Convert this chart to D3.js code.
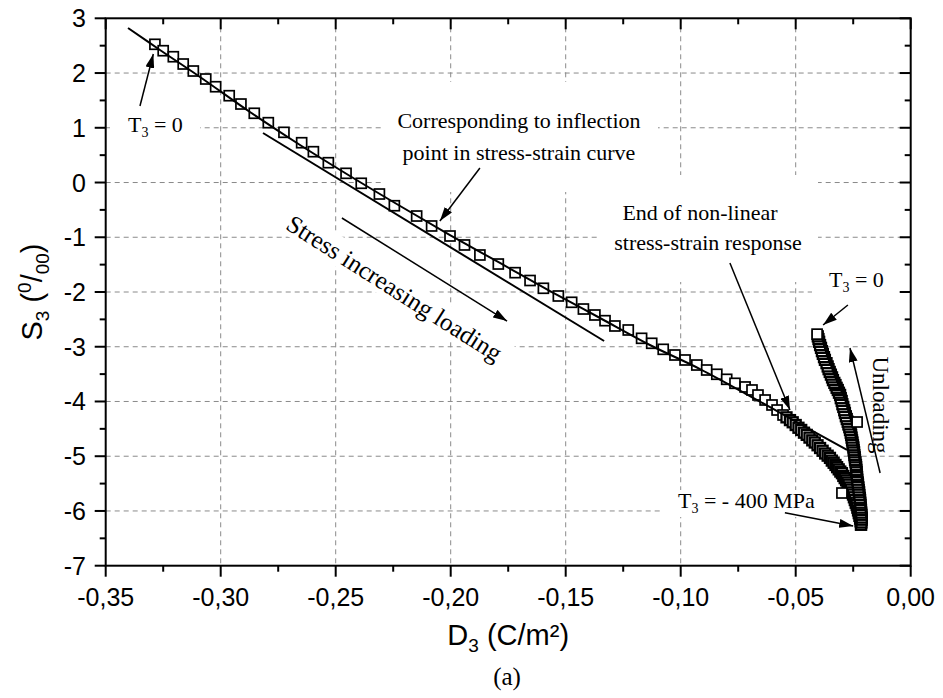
<!DOCTYPE html>
<html>
<head>
<meta charset="utf-8">
<script src="https://cdn.jsdelivr.net/npm/d3@7"></script>
<style>
  body { margin: 0; background: #fff; }
  svg { display: block; }
</style>
</head>
<body>
<svg id="chart" width="943" height="698"></svg>
<script>
// ---- Loading branch: electric displacement D3 (C/m²) vs strain S3 (‰)
const loadD = [-0.3286,-0.3250,-0.3206,-0.3163,-0.3119,-0.3065,-0.3022,-0.2963,-0.2912,-0.2854,
  -0.2793,-0.2725,-0.2648,-0.2597,-0.2532,-0.2455,-0.2389,-0.2310,-0.2245,-0.2148,
  -0.2083,-0.2003,-0.1940,-0.1873,-0.1793,-0.1720,-0.1655,-0.1597,-0.1532,-0.1474,
  -0.1423,-0.1373,-0.1329,-0.1286,-0.1228,-0.1170,-0.1126,-0.1076,-0.1025,-0.0981,
  -0.0930,-0.0887,-0.0843,-0.0800,-0.0764,-0.0720,-0.0690,-0.0664,-0.0633,-0.0603,
  -0.0581,-0.0555];
const loadS = [2.525,2.408,2.298,2.165,2.037,1.891,1.750,1.586,1.434,1.265,
  1.093,0.917,0.727,0.563,0.362,0.168,-0.014,-0.210,-0.424,-0.612,
  -0.794,-0.977,-1.141,-1.324,-1.489,-1.647,-1.790,-1.932,-2.073,-2.188,
  -2.311,-2.420,-2.524,-2.621,-2.694,-2.846,-2.937,-3.047,-3.151,-3.242,
  -3.334,-3.425,-3.503,-3.595,-3.668,-3.735,-3.790,-3.882,-3.973,-4.064,
  -4.156,-4.247];

// ---- End of loading, where readings crowd together (down to T3 = -400 MPa)
const lateLoadD = [-0.0540,-0.0525,-0.0513,-0.0500,-0.0488,-0.0476,-0.0464,-0.0452,
  -0.0440,-0.0428,-0.0417,-0.0405,-0.0394,-0.0383,-0.0372,-0.0361,-0.0351,-0.0343,
  -0.0335,-0.0327,-0.0320,-0.0313,-0.0306,-0.0299,-0.0293,-0.0287,-0.0281,-0.0275,
  -0.0270,-0.0265,-0.0260,-0.0255,-0.0251,-0.0247,-0.0243,-0.0239,-0.0235,-0.0232,
  -0.0229,-0.0226,-0.0223,-0.0220,-0.0218,-0.0216];
const lateLoadS = [-4.29,-4.34,-4.38,-4.43,-4.48,-4.52,-4.57,-4.61,
  -4.66,-4.71,-4.75,-4.80,-4.85,-4.90,-4.95,-4.99,-5.03,-5.08,
  -5.12,-5.16,-5.20,-5.24,-5.28,-5.31,-5.36,-5.40,-5.44,-5.48,
  -5.52,-5.57,-5.61,-5.66,-5.70,-5.75,-5.80,-5.85,-5.89,-5.94,
  -5.99,-6.04,-6.09,-6.14,-6.19,-6.25];

// ---- Unloading branch (from T3 = -400 MPa back to T3 = 0)
const unloadD = [-0.0216,-0.0214,-0.0213,-0.0213,-0.0214,-0.0215,-0.0216,-0.0217,-0.0218,-0.0219,
  -0.0220,-0.0221,-0.0223,-0.0224,-0.0226,-0.0227,-0.0229,-0.0230,-0.0232,-0.0233,
  -0.0234,-0.0235,-0.0236,-0.0237,-0.0238,-0.0240,-0.0242,-0.0243,-0.0245,-0.0246,
  -0.0248,-0.0249,-0.0251,-0.0253,-0.0255,-0.0257,-0.0259,-0.0261,-0.0264,-0.0267,
  -0.0271,-0.0274,-0.0278,-0.0282,-0.0286,-0.0289,-0.0293,-0.0297,-0.0300,-0.0304,
  -0.0307,-0.0312,-0.0317,-0.0322,-0.0327,-0.0332,-0.0338,-0.0342,-0.0347,-0.0352,
  -0.0357,-0.0361,-0.0366,-0.0373,-0.0377,-0.0382,-0.0386,-0.0390,-0.0394,-0.0398,
  -0.0401,-0.0404];
const unloadS = [-6.25,-6.21,-6.16,-6.12,-6.07,-6.03,-5.98,-5.94,-5.89,-5.85,
  -5.80,-5.76,-5.71,-5.66,-5.62,-5.57,-5.52,-5.48,-5.43,-5.38,
  -5.34,-5.29,-5.25,-5.20,-5.16,-5.11,-5.07,-5.02,-4.98,-4.93,
  -4.89,-4.84,-4.80,-4.75,-4.71,-4.66,-4.61,-4.57,-4.52,-4.47,
  -4.42,-4.37,-4.32,-4.27,-4.21,-4.16,-4.10,-4.05,-3.99,-3.94,
  -3.88,-3.84,-3.79,-3.75,-3.70,-3.66,-3.61,-3.56,-3.51,-3.46,
  -3.41,-3.36,-3.30,-3.24,-3.19,-3.13,-3.08,-3.02,-2.97,-2.91,
  -2.86,-2.81];

// ---- Last unloading reading (T3 = 0) and isolated readings off the branches
const endD = [-0.0407];
const endS = [-2.77];
const strayD = [-0.0233, -0.0299];
const strayS = [-4.375, -5.672];

// ---- Smooth curve through the loading branch
const fitD = [-0.3403,-0.3264,-0.3090,-0.2873,-0.2655,-0.2438,-0.2220,-0.2003,-0.1786,-0.1568,
  -0.1351,-0.1134,-0.0916,-0.0699,-0.0482,-0.0277];
const fitS = [2.823,2.421,1.928,1.288,0.685,0.119,-0.429,-0.959,-1.470,-1.982,
  -2.475,-2.968,-3.407,-3.900,-4.411,-4.886];

// ---- Straight tangent at the inflection point
const tangentD = [-0.2816, -0.1333];
const tangentS = [0.905, -2.895];

// ---- Axes
const xTickValues = [-0.35,-0.30,-0.25,-0.20,-0.15,-0.10,-0.05,0.00];
const xMinorValues = [-0.325,-0.275,-0.225,-0.175,-0.125,-0.075,-0.025];
const yTickValues = [-7,-6,-5,-4,-3,-2,-1,0,1,2,3];
const yMinorValues = [-6.5,-5.5,-4.5,-3.5,-2.5,-1.5,-0.5,0.5,1.5,2.5];

const svg = d3.select("#chart");
const L = 105.7, R = 910.7, T = 18.3, B = 565.7;
const x = d3.scaleLinear().domain([-0.35, 0]).range([L, R]);
const y = d3.scaleLinear().domain([-7, 3]).range([B, T]);

const loc = d3.formatLocale({decimal: ",", thousands: ".", grouping: [3], currency: ["", ""], minus: "-"});
const fmtX = loc.format(".2f");
const fmtY = loc.format("d");

const SANS = "'Liberation Sans', Arial, sans-serif";
const SERIF = "'Liberation Serif', 'Times New Roman', serif";

// arrow head
svg.append("defs").append("marker")
  .attr("id", "head").attr("viewBox", "0 0 10 10")
  .attr("refX", 10).attr("refY", 5)
  .attr("markerUnits", "userSpaceOnUse")
  .attr("markerWidth", 14).attr("markerHeight", 9)
  .attr("preserveAspectRatio", "none")
  .attr("orient", "auto")
  .append("path").attr("d", "M0,0 L10,5 L0,10 Z").attr("fill", "#000");

// grid
const grid = svg.append("g").attr("stroke", "#8a8a8a").attr("stroke-width", 1)
  .attr("stroke-dasharray", "5,4");
grid.selectAll("line.v").data(xTickValues.slice(1, -1)).join("line")
  .attr("x1", d => x(d)).attr("x2", d => x(d)).attr("y1", T).attr("y2", B);
grid.selectAll("line.h").data(yTickValues.slice(1, -1)).join("line")
  .attr("y1", d => y(d)).attr("y2", d => y(d)).attr("x1", L).attr("x2", R);

// white backing behind the annotation text blocks
const boxes = [
  [110, 110, 90, 36],
  [382, 82, 276, 110],
  [600, 175, 218, 107],
  [812, 266, 90, 34],
  [660, 490, 175, 27]
];
svg.append("g").selectAll("rect").data(boxes).join("rect")
  .attr("x", d => d[0]).attr("y", d => d[1]).attr("width", d => d[2]).attr("height", d => d[3])
  .attr("fill", "#fff");

// rotated text with its own backing
const stressG = svg.append("g").attr("transform", "translate(392,292) rotate(32.5)");
stressG.append("rect").attr("x", -136).attr("y", -20).attr("width", 272).attr("height", 29).attr("fill", "#fff");
stressG.append("text").attr("text-anchor", "middle").attr("y", 4)
  .attr("font-family", SERIF).attr("font-size", 25).text("Stress increasing loading");

// markers
const sq = 10;
function drawSquares(D, S, sw) {
  svg.append("g").selectAll("rect").data(D.map((d, i) => [d, S[i]])).join("rect")
    .attr("x", d => x(d[0]) - sq / 2).attr("y", d => y(d[1]) - sq / 2)
    .attr("width", sq).attr("height", sq)
    .attr("fill", "#fff").attr("stroke", "#000").attr("stroke-width", sw);
}
drawSquares(loadD, loadS, 1.7);
drawSquares(lateLoadD, lateLoadS, 2.3);
drawSquares(unloadD, unloadS, 2.3);
drawSquares(endD, endS, 1.7);
drawSquares(strayD, strayS, 1.7);

// fitted curve and tangent
const line = d3.line().x(d => x(d[0])).y(d => y(d[1]));
svg.append("path").datum(fitD.map((d, i) => [d, fitS[i]]))
  .attr("d", line.curve(d3.curveCatmullRom))
  .attr("fill", "none").attr("stroke", "#000").attr("stroke-width", 2);
svg.append("path").datum(tangentD.map((d, i) => [d, tangentS[i]]))
  .attr("d", d3.line().x(d => x(d[0])).y(d => y(d[1])))
  .attr("fill", "none").attr("stroke", "#000").attr("stroke-width", 2);

// axes frame
const ax = svg.append("g").attr("stroke", "#000").attr("stroke-width", 2);
ax.append("rect").attr("x", L).attr("y", T).attr("width", R - L).attr("height", B - T).attr("fill", "none");
const MJ = 11, MN = 6;
// bottom (outward) and top (inward)
xTickValues.forEach(v => {
  ax.append("line").attr("x1", x(v)).attr("x2", x(v)).attr("y1", B).attr("y2", B + MJ);
  ax.append("line").attr("x1", x(v)).attr("x2", x(v)).attr("y1", T).attr("y2", T + MJ);
});
xMinorValues.forEach(v => {
  ax.append("line").attr("x1", x(v)).attr("x2", x(v)).attr("y1", B).attr("y2", B + MN);
  ax.append("line").attr("x1", x(v)).attr("x2", x(v)).attr("y1", T).attr("y2", T + MN);
});
// left (outward) and right (inward)
yTickValues.forEach(v => {
  ax.append("line").attr("y1", y(v)).attr("y2", y(v)).attr("x1", L).attr("x2", L - MJ);
  ax.append("line").attr("y1", y(v)).attr("y2", y(v)).attr("x1", R).attr("x2", R - MJ);
});
yMinorValues.forEach(v => {
  ax.append("line").attr("y1", y(v)).attr("y2", y(v)).attr("x1", L).attr("x2", L - MN);
  ax.append("line").attr("y1", y(v)).attr("y2", y(v)).attr("x1", R).attr("x2", R - MN);
});

// tick labels
svg.append("g").selectAll("text").data(xTickValues).join("text")
  .attr("x", d => x(d)).attr("y", 606).attr("text-anchor", "middle")
  .attr("font-family", SANS).attr("font-size", 25).text(d => fmtX(d));
svg.append("g").selectAll("text").data(yTickValues).join("text")
  .attr("x", 86).attr("y", d => y(d) + 9).attr("text-anchor", "end")
  .attr("font-family", SANS).attr("font-size", 25).text(d => fmtY(d));

// axis titles
const xt = svg.append("text").attr("x", (L + R) / 2).attr("y", 645).attr("text-anchor", "middle")
  .attr("font-family", SANS).attr("font-size", 29);
xt.append("tspan").text("D");
xt.append("tspan").attr("font-size", 19).attr("dy", 7).text("3");
xt.append("tspan").attr("dy", -7).text(" (C/m²)");

const yt = svg.append("text").attr("transform", `translate(42,${(T + B) / 2}) rotate(-90)`)
  .attr("text-anchor", "middle").attr("font-family", SANS).attr("font-size", 29);
yt.append("tspan").text("S");
yt.append("tspan").attr("font-size", 19).attr("dy", 7).text("3");
yt.append("tspan").attr("dy", -7).text(" (");
yt.append("tspan").attr("font-size", 19).attr("dy", -11).text("0");
yt.append("tspan").attr("dy", 11).text("/");
yt.append("tspan").attr("font-size", 19).attr("dy", 7).text("00");
yt.append("tspan").attr("dy", -7).text(")");

svg.append("text").attr("x", 507).attr("y", 685).attr("text-anchor", "middle")
  .attr("font-family", SERIF).attr("font-size", 25).text("(a)");

// annotations
function tLabel(px, py, rest, anchor) {
  const t = svg.append("text").attr("x", px).attr("y", py).attr("text-anchor", anchor || "start")
    .attr("font-family", SERIF).attr("font-size", 22);
  t.append("tspan").text("T");
  t.append("tspan").attr("font-size", 14).attr("dy", 5).text("3");
  t.append("tspan").attr("dy", -5).text(rest);
}
tLabel(128, 132, " = 0");
tLabel(829, 287, " = 0");
tLabel(678, 508, " = - 400 MPa");

function serif(px, py, str, anchor) {
  svg.append("text").attr("x", px).attr("y", py).attr("text-anchor", anchor || "middle")
    .attr("font-family", SERIF).attr("font-size", 22).text(str);
}
serif(519, 128, "Corresponding to inflection");
serif(519, 160, "point in stress-strain curve");
serif(700, 220, "End of non-linear");
serif(708, 250, "stress-strain response");

svg.append("text").attr("transform", "translate(873,405) rotate(90)")
  .attr("text-anchor", "middle").attr("font-family", SERIF).attr("font-size", 23).text("Unloading");

// arrows, given in data coordinates [D1, S1, D2, S2]
const arrows = [
  [-0.3351, 1.398, -0.3293, 2.348],
  [-0.1873, 0.265, -0.2047, -0.703],
  [-0.2473, -0.648, -0.1755, -2.530],
  [-0.0786, -1.470, -0.0525, -4.156],
  [-0.0273, -2.237, -0.0381, -2.603],
  [-0.0133, -5.306, -0.0264, -3.023],
  [-0.0547, -6.032, -0.0250, -6.275]
];
svg.append("g").selectAll("line").data(arrows).join("line")
  .attr("x1", d => x(d[0])).attr("y1", d => y(d[1]))
  .attr("x2", d => x(d[2])).attr("y2", d => y(d[3]))
  .attr("stroke", "#000").attr("stroke-width", 1.5)
  .attr("marker-end", "url(#head)");
</script>
</body>
</html>
